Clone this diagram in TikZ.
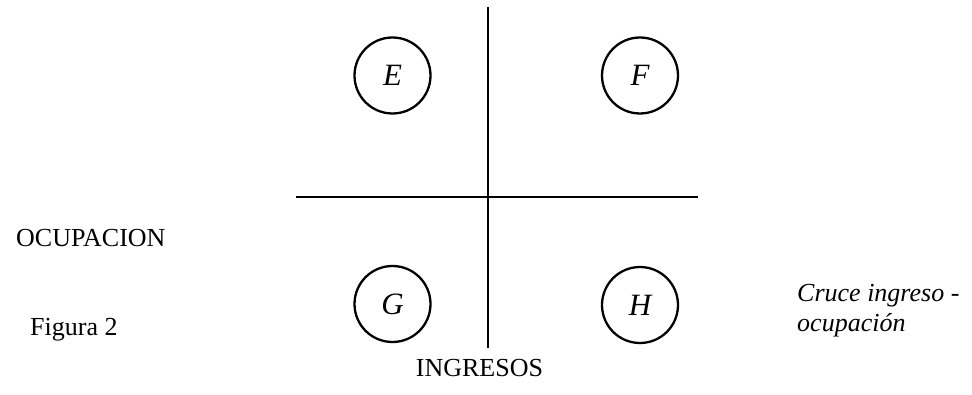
\documentclass[tikz,border=0pt]{standalone}
\usepackage{fontspec}
\setmainfont{Liberation Serif}
\begin{document}
\begin{tikzpicture}[x=1pt,y=-1pt,
  quad/.style={circle,draw,line width=2.3pt,minimum size=76pt,inner sep=0pt,font=\fontsize{31}{36}\selectfont\itshape},
  axis/.style={line width=2.8pt},
  lbl/.style={inner sep=0pt,font=\fontsize{26}{30}\selectfont}]
\useasboundingbox (0,0) rectangle (972,395);
\coordinate (vtop) at (488,7);
\coordinate (vbot) at (488,348);
\coordinate (hl) at (296,197);
\coordinate (hr) at (698,197);
\draw[axis] (vtop) -- (vbot);
\draw[axis] (hl) -- (hr);
\node[quad] (E) at (392.5,75.5) {E};
\node[quad] (F) at (640,75.5) {F};
\node[quad] (G) at (392.5,304) {G};
\node[quad] (H) at (640,305) {H};
\node[lbl,anchor=base west] (ocup) at (16,247) {OCUPACION};
\node[lbl,anchor=base west] (fig) at (30,336) {Figura 2};
\node[lbl,anchor=base] (ingr) at (479.5,377) {INGRESOS};
\node[lbl,anchor=base west,align=left,font=\fontsize{26}{30}\selectfont\itshape] (cruce) at (797,332) {Cruce ingreso -\\ocupación};
\end{tikzpicture}
\end{document}
